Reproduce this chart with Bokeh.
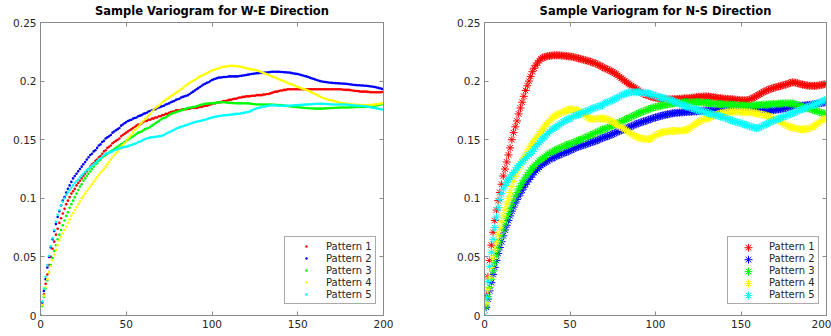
from bokeh.plotting import figure
from bokeh.layouts import row
from bokeh.models import (FixedTicker, CustomJSTickFormatter, LinearAxis, Legend,
                          LegendItem, Range1d, CustomLabelingPolicy)
from bokeh.embed import file_html
from bokeh.resources import INLINE

lags = list(range(0, 201))

pattern_names = ["Pattern 1", "Pattern 2", "Pattern 3", "Pattern 4", "Pattern 5"]
pattern_colors = ["#ff0000", "#0000ff", "#00ff00", "#ffff00", "#00ffff"]
x_ticks = [0, 50, 100, 150, 200]
y_ticks = [0, 0.05, 0.1, 0.15, 0.2, 0.25]

# ---------------- W-E direction ----------------
we_p1 = [
    0.000, 0.009, 0.018, 0.027, 0.035, 0.043, 0.050, 0.057, 0.063, 0.069,
    0.074, 0.079, 0.083, 0.087, 0.091, 0.095, 0.098, 0.101, 0.104, 0.106,
    0.108, 0.111, 0.113, 0.115, 0.117, 0.119, 0.121, 0.123, 0.125, 0.127,
    0.129, 0.130, 0.132, 0.133, 0.135, 0.136, 0.138, 0.140, 0.141, 0.143,
    0.144, 0.145, 0.147, 0.148, 0.149, 0.150, 0.151, 0.153, 0.154, 0.155,
    0.156, 0.157, 0.158, 0.159, 0.160, 0.161, 0.162, 0.163, 0.163, 0.164,
    0.165, 0.166, 0.166, 0.167, 0.167, 0.168, 0.168, 0.169, 0.169, 0.170,
    0.170, 0.171, 0.171, 0.172, 0.172, 0.173, 0.1735, 0.174, 0.174, 0.175,
    0.175, 0.175, 0.1755, 0.176, 0.176, 0.176, 0.1765, 0.1765, 0.177, 0.177,
    0.177, 0.177, 0.1775, 0.178, 0.178, 0.1785, 0.179, 0.179, 0.1795, 0.180,
    0.1805, 0.181, 0.181, 0.1815, 0.182, 0.182, 0.1825, 0.183, 0.183, 0.1835,
    0.184, 0.184, 0.1845, 0.185, 0.185, 0.1855, 0.186, 0.186, 0.1865, 0.1865,
    0.187, 0.187, 0.187, 0.1875, 0.1875, 0.1875, 0.188, 0.188, 0.188, 0.188,
    0.1885, 0.1885, 0.189, 0.189, 0.1895, 0.190, 0.1905, 0.191, 0.191, 0.1915,
    0.192, 0.192, 0.1925, 0.1925, 0.193, 0.193, 0.193, 0.193, 0.193, 0.193,
    0.193, 0.193, 0.193, 0.193, 0.193, 0.193, 0.193, 0.193, 0.193, 0.193,
    0.193, 0.193, 0.193, 0.193, 0.193, 0.193, 0.193, 0.193, 0.193, 0.193,
    0.193, 0.193, 0.193, 0.193, 0.193, 0.193, 0.1928, 0.1926, 0.1925, 0.1925,
    0.1925, 0.1922, 0.192, 0.1918, 0.1915, 0.1915, 0.1912, 0.191, 0.191, 0.191,
    0.191, 0.1908, 0.1906, 0.1905, 0.1905, 0.1905, 0.1905, 0.1905, 0.1905, 0.1906,
    0.1906,
]
we_p2 = [
    0.000, 0.011, 0.021, 0.031, 0.041, 0.050, 0.058, 0.065, 0.072, 0.078,
    0.084, 0.089, 0.094, 0.098, 0.101, 0.105, 0.108, 0.111, 0.114, 0.117,
    0.119, 0.121, 0.123, 0.125, 0.127, 0.129, 0.131, 0.133, 0.135, 0.137,
    0.138, 0.140, 0.141, 0.143, 0.145, 0.146, 0.148, 0.149, 0.151, 0.152,
    0.153, 0.154, 0.156, 0.157, 0.158, 0.159, 0.160, 0.162, 0.163, 0.164,
    0.165, 0.166, 0.1665, 0.167, 0.168, 0.1685, 0.169, 0.170, 0.1705, 0.171,
    0.172, 0.1725, 0.173, 0.174, 0.1745, 0.175, 0.1755, 0.176, 0.177, 0.1775,
    0.178, 0.1785, 0.179, 0.180, 0.1805, 0.181, 0.182, 0.1825, 0.183, 0.184,
    0.1845, 0.185, 0.186, 0.1865, 0.187, 0.1875, 0.188, 0.189, 0.190, 0.191,
    0.192, 0.193, 0.194, 0.195, 0.196, 0.197, 0.1977, 0.1985, 0.199, 0.200,
    0.201, 0.2015, 0.202, 0.2025, 0.203, 0.203, 0.2033, 0.2035, 0.2035, 0.2037,
    0.204, 0.204, 0.204, 0.204, 0.204, 0.204, 0.2043, 0.2045, 0.2048, 0.205,
    0.2052, 0.2055, 0.2058, 0.206, 0.2062, 0.2065, 0.2067, 0.2068, 0.2069, 0.207,
    0.207, 0.2072, 0.2074, 0.2076, 0.2078, 0.208, 0.208, 0.208, 0.208, 0.208,
    0.2078, 0.2077, 0.2076, 0.2075, 0.2074, 0.2073, 0.207, 0.2067, 0.2064, 0.2062,
    0.206, 0.2056, 0.2052, 0.2048, 0.2044, 0.204, 0.2035, 0.203, 0.2025, 0.202,
    0.2015, 0.201, 0.2005, 0.200, 0.1997, 0.1995, 0.1992, 0.199, 0.1988, 0.1986,
    0.1985, 0.1984, 0.1983, 0.1982, 0.1981, 0.198, 0.1979, 0.1978, 0.1977, 0.1975,
    0.1973, 0.1971, 0.1969, 0.1967, 0.1966, 0.1965, 0.1964, 0.1963, 0.1962, 0.1961,
    0.196, 0.1958, 0.1956, 0.1954, 0.1952, 0.195, 0.1946, 0.1942, 0.1938, 0.1934,
    0.1931,
]
we_p3 = [
    0.000, 0.008, 0.016, 0.023, 0.030, 0.037, 0.043, 0.049, 0.055, 0.060,
    0.065, 0.069, 0.073, 0.077, 0.081, 0.085, 0.088, 0.092, 0.095, 0.098,
    0.101, 0.104, 0.107, 0.110, 0.112, 0.115, 0.117, 0.119, 0.121, 0.123,
    0.125, 0.127, 0.129, 0.130, 0.132, 0.133, 0.135, 0.136, 0.137, 0.138,
    0.139, 0.140, 0.141, 0.142, 0.143, 0.144, 0.145, 0.146, 0.147, 0.148,
    0.149, 0.150, 0.151, 0.152, 0.153, 0.154, 0.155, 0.156, 0.1565, 0.157,
    0.158, 0.159, 0.1595, 0.160, 0.161, 0.162, 0.163, 0.164, 0.165, 0.166,
    0.167, 0.168, 0.1685, 0.169, 0.170, 0.171, 0.172, 0.1725, 0.173, 0.1735,
    0.174, 0.1745, 0.175, 0.1755, 0.176, 0.1765, 0.177, 0.1772, 0.1775, 0.1778,
    0.178, 0.1785, 0.179, 0.1795, 0.180, 0.1803, 0.1807, 0.1808, 0.1809, 0.181,
    0.181, 0.1812, 0.1814, 0.1816, 0.1818, 0.182, 0.182, 0.182, 0.1818, 0.1816,
    0.1815, 0.1814, 0.1813, 0.1812, 0.1811, 0.181, 0.181, 0.181, 0.181, 0.181,
    0.181, 0.181, 0.1808, 0.1806, 0.1804, 0.1802, 0.180, 0.180, 0.180, 0.180,
    0.180, 0.180, 0.180, 0.180, 0.180, 0.180, 0.1798, 0.1797, 0.1796, 0.1795,
    0.1795, 0.1793, 0.1791, 0.1789, 0.1787, 0.1785, 0.1783, 0.1781, 0.178, 0.178,
    0.1778, 0.1776, 0.1774, 0.1772, 0.1771, 0.177, 0.1769, 0.1768, 0.1767, 0.1766,
    0.1765, 0.1765, 0.1765, 0.1765, 0.1765, 0.1766, 0.1767, 0.1768, 0.1769, 0.177,
    0.177, 0.1771, 0.1772, 0.1773, 0.1774, 0.1775, 0.1775, 0.1775, 0.1775, 0.1775,
    0.1775, 0.1776, 0.1777, 0.1778, 0.1779, 0.178, 0.178, 0.178, 0.178, 0.178,
    0.178, 0.1782, 0.1784, 0.1786, 0.1788, 0.179, 0.1793, 0.1796, 0.1799, 0.1802,
    0.1804,
]
we_p4 = [
    0.000, 0.009, 0.017, 0.024, 0.031, 0.037, 0.042, 0.047, 0.052, 0.056,
    0.060, 0.064, 0.067, 0.070, 0.073, 0.076, 0.079, 0.082, 0.085, 0.0875,
    0.090, 0.0925, 0.095, 0.0975, 0.100, 0.102, 0.104, 0.106, 0.108, 0.110,
    0.112, 0.114, 0.116, 0.118, 0.120, 0.122, 0.1235, 0.125, 0.127, 0.129,
    0.131, 0.133, 0.135, 0.137, 0.1385, 0.140, 0.142, 0.144, 0.1455, 0.147,
    0.149, 0.151, 0.1525, 0.154, 0.156, 0.158, 0.1595, 0.161, 0.163, 0.1645,
    0.166, 0.1675, 0.169, 0.1705, 0.172, 0.174, 0.1755, 0.177, 0.178, 0.179,
    0.1805, 0.182, 0.183, 0.184, 0.185, 0.186, 0.187, 0.188, 0.189, 0.190,
    0.191, 0.192, 0.193, 0.194, 0.1955, 0.1965, 0.1975, 0.1985, 0.1995, 0.2003,
    0.201, 0.202, 0.203, 0.204, 0.2045, 0.2053, 0.206, 0.2068, 0.2075, 0.2083,
    0.209, 0.2095, 0.210, 0.2105, 0.211, 0.2115, 0.212, 0.2123, 0.2125, 0.2127,
    0.2128, 0.213, 0.213, 0.213, 0.2128, 0.2127, 0.2125, 0.2122, 0.2118, 0.2114,
    0.211, 0.2107, 0.2104, 0.210, 0.2098, 0.2096, 0.2092, 0.2087, 0.2082, 0.2076,
    0.207, 0.2064, 0.2058, 0.2052, 0.2046, 0.204, 0.2034, 0.2028, 0.2022, 0.2016,
    0.201, 0.2004, 0.1998, 0.1992, 0.1986, 0.198, 0.1974, 0.1968, 0.1962, 0.1956,
    0.195, 0.1945, 0.194, 0.1935, 0.193, 0.1926, 0.1919, 0.1912, 0.1905, 0.1898,
    0.189, 0.1883, 0.1876, 0.1868, 0.186, 0.1855, 0.185, 0.1845, 0.184, 0.1837,
    0.1835, 0.1831, 0.1827, 0.1822, 0.1818, 0.1815, 0.1812, 0.181, 0.1808, 0.1806,
    0.1805, 0.1803, 0.1801, 0.180, 0.1798, 0.1797, 0.1796, 0.1796, 0.1795, 0.1795,
    0.1795, 0.1795, 0.1796, 0.1797, 0.1798, 0.180, 0.1802, 0.1805, 0.1808, 0.181,
    0.1812,
]
we_p5 = [
    0.000, 0.012, 0.023, 0.033, 0.043, 0.051, 0.059, 0.066, 0.073, 0.080,
    0.086, 0.090, 0.094, 0.097, 0.100, 0.103, 0.105, 0.107, 0.109, 0.111,
    0.113, 0.1145, 0.116, 0.118, 0.1195, 0.121, 0.1225, 0.124, 0.125, 0.1265,
    0.128, 0.129, 0.130, 0.1315, 0.133, 0.134, 0.1355, 0.137, 0.138, 0.1385,
    0.139, 0.1395, 0.140, 0.141, 0.1415, 0.142, 0.1425, 0.143, 0.1435, 0.144,
    0.144, 0.1445, 0.145, 0.1455, 0.146, 0.1465, 0.147, 0.148, 0.1485, 0.149,
    0.150, 0.1505, 0.151, 0.1515, 0.152, 0.152, 0.1522, 0.1525, 0.1527, 0.153,
    0.153, 0.1535, 0.154, 0.155, 0.1557, 0.1563, 0.157, 0.1578, 0.1585, 0.1593,
    0.160, 0.1605, 0.161, 0.1615, 0.162, 0.1625, 0.163, 0.1635, 0.164, 0.1645,
    0.165, 0.1653, 0.1657, 0.166, 0.1663, 0.1667, 0.167, 0.1675, 0.168, 0.1685,
    0.169, 0.1693, 0.1696, 0.1699, 0.1702, 0.1704, 0.1706, 0.1708, 0.1708, 0.171,
    0.1712, 0.1714, 0.1716, 0.1718, 0.172, 0.172, 0.1722, 0.1725, 0.1728, 0.1731,
    0.1733, 0.1736, 0.1742, 0.1748, 0.1755, 0.1762, 0.1767, 0.177, 0.1774, 0.1778,
    0.1781, 0.1784, 0.1787, 0.179, 0.1792, 0.1793, 0.1793, 0.1792, 0.1791, 0.179,
    0.179, 0.179, 0.179, 0.179, 0.179, 0.179, 0.1791, 0.1792, 0.1793, 0.1794,
    0.1795, 0.1796, 0.1797, 0.1798, 0.1799, 0.180, 0.1801, 0.1802, 0.1803, 0.1804,
    0.1805, 0.1806, 0.1807, 0.1807, 0.1807, 0.1806, 0.1805, 0.1804, 0.1803, 0.1802,
    0.180, 0.180, 0.180, 0.180, 0.180, 0.180, 0.180, 0.180, 0.180, 0.1798,
    0.1796, 0.1795, 0.1793, 0.1792, 0.1791, 0.179, 0.1789, 0.1788, 0.1787, 0.1786,
    0.1784, 0.1781, 0.1778, 0.1775, 0.1772, 0.177, 0.1767, 0.1764, 0.1761, 0.1758,
    0.1756,
]

# ---------------- N-S direction ----------------
ns_p1 = [
    0.000, 0.017, 0.033, 0.047, 0.060, 0.071, 0.081, 0.090, 0.098, 0.105,
    0.112, 0.119, 0.125, 0.131, 0.137, 0.143, 0.150, 0.156, 0.161, 0.166,
    0.172, 0.177, 0.182, 0.187, 0.192, 0.196, 0.200, 0.204, 0.208, 0.211,
    0.2135, 0.2155, 0.2175, 0.219, 0.220, 0.2205, 0.221, 0.2213, 0.2215, 0.2217,
    0.222, 0.222, 0.222, 0.222, 0.222, 0.2218, 0.2217, 0.2215, 0.2213, 0.2212,
    0.221, 0.2208, 0.2205, 0.2202, 0.2198, 0.2194, 0.219, 0.2186, 0.2182, 0.2178,
    0.2175, 0.217, 0.2165, 0.216, 0.2155, 0.215, 0.2143, 0.2135, 0.2128, 0.212,
    0.2113, 0.2106, 0.210, 0.2092, 0.2085, 0.2077, 0.2068, 0.206, 0.2048, 0.2037,
    0.2025, 0.2013, 0.2002, 0.199, 0.198, 0.197, 0.196, 0.195, 0.194, 0.193,
    0.192, 0.191, 0.190, 0.189, 0.1885, 0.188, 0.1875, 0.187, 0.1865, 0.186,
    0.186, 0.1855, 0.185, 0.185, 0.1848, 0.1845, 0.1845, 0.1845, 0.1845, 0.1845,
    0.1845, 0.1846, 0.1847, 0.1848, 0.1849, 0.185, 0.1851, 0.1852, 0.1853, 0.1854,
    0.1855, 0.1857, 0.1859, 0.1861, 0.1863, 0.1865, 0.1866, 0.1867, 0.1868, 0.1869,
    0.187, 0.1868, 0.1866, 0.1864, 0.1862, 0.186, 0.1858, 0.1856, 0.1854, 0.1852,
    0.185, 0.1849, 0.1848, 0.1847, 0.1846, 0.1845, 0.1843, 0.1841, 0.184, 0.1838,
    0.1837, 0.1836, 0.1835, 0.1836, 0.1838, 0.1842, 0.1848, 0.1855, 0.1863, 0.1872,
    0.188, 0.189, 0.1898, 0.1906, 0.1914, 0.192, 0.1926, 0.1932, 0.1937, 0.1942,
    0.1946, 0.195, 0.1954, 0.1958, 0.1962, 0.1966, 0.197, 0.1975, 0.198, 0.1985,
    0.199, 0.1989, 0.1986, 0.1982, 0.1978, 0.1974, 0.197, 0.1967, 0.1964, 0.1962,
    0.196, 0.196, 0.196, 0.196, 0.196, 0.1962, 0.1964, 0.1967, 0.197, 0.1973,
    0.1976,
]
ns_p2 = [
    0.000, 0.007, 0.014, 0.021, 0.028, 0.035, 0.041, 0.047, 0.053, 0.058,
    0.063, 0.068, 0.073, 0.077, 0.081, 0.085, 0.089, 0.0925, 0.096, 0.099,
    0.102, 0.1045, 0.107, 0.1095, 0.112, 0.114, 0.116, 0.118, 0.120, 0.122,
    0.1235, 0.125, 0.1265, 0.128, 0.129, 0.130, 0.131, 0.132, 0.133, 0.134,
    0.1345, 0.135, 0.136, 0.1365, 0.137, 0.138, 0.1385, 0.139, 0.1395, 0.140,
    0.141, 0.1415, 0.142, 0.143, 0.1435, 0.144, 0.1445, 0.145, 0.1455, 0.146,
    0.1465, 0.147, 0.1475, 0.148, 0.1485, 0.149, 0.1495, 0.150, 0.151, 0.1515,
    0.152, 0.1525, 0.153, 0.1535, 0.154, 0.155, 0.1555, 0.156, 0.157, 0.1575,
    0.158, 0.1585, 0.159, 0.1595, 0.1605, 0.161, 0.1615, 0.162, 0.163, 0.1635,
    0.164, 0.1645, 0.165, 0.1655, 0.166, 0.1665, 0.167, 0.1675, 0.168, 0.1685,
    0.169, 0.1694, 0.1698, 0.1702, 0.1706, 0.171, 0.1713, 0.1716, 0.1719, 0.1722,
    0.1725, 0.1727, 0.1728, 0.173, 0.1731, 0.1732, 0.1733, 0.1735, 0.1736, 0.1737,
    0.1738, 0.1739, 0.174, 0.1741, 0.1742, 0.1745, 0.1746, 0.1747, 0.1748, 0.1749,
    0.175, 0.175, 0.175, 0.175, 0.175, 0.175, 0.175, 0.175, 0.175, 0.175,
    0.1752, 0.1753, 0.1755, 0.1756, 0.1757, 0.1758, 0.1759, 0.176, 0.176, 0.176,
    0.1761, 0.1762, 0.1762, 0.1763, 0.1763, 0.1763, 0.1762, 0.1762, 0.1761, 0.176,
    0.176, 0.1758, 0.1756, 0.1754, 0.1752, 0.175, 0.175, 0.175, 0.175, 0.1752,
    0.1754, 0.1756, 0.1758, 0.176, 0.1763, 0.1766, 0.177, 0.1774, 0.1778, 0.1782,
    0.1786, 0.179, 0.179, 0.179, 0.179, 0.179, 0.179, 0.1792, 0.1794, 0.1796,
    0.1797, 0.1799, 0.1801, 0.1803, 0.1805, 0.1808, 0.181, 0.1813, 0.1816, 0.1818,
    0.182,
]
ns_p3 = [
    0.000, 0.008, 0.016, 0.024, 0.031, 0.038, 0.045, 0.051, 0.057, 0.063,
    0.068, 0.073, 0.078, 0.083, 0.087, 0.091, 0.095, 0.0985, 0.102, 0.105,
    0.108, 0.1105, 0.113, 0.1155, 0.118, 0.120, 0.122, 0.124, 0.126, 0.1275,
    0.129, 0.1305, 0.132, 0.133, 0.134, 0.135, 0.1365, 0.1375, 0.1385, 0.139,
    0.140, 0.141, 0.1415, 0.142, 0.143, 0.1435, 0.144, 0.145, 0.1455, 0.146,
    0.1465, 0.147, 0.1475, 0.148, 0.149, 0.1495, 0.150, 0.1505, 0.151, 0.152,
    0.1525, 0.153, 0.154, 0.1545, 0.155, 0.156, 0.1565, 0.157, 0.158, 0.1585,
    0.159, 0.1595, 0.160, 0.161, 0.1615, 0.162, 0.163, 0.1635, 0.164, 0.165,
    0.1655, 0.166, 0.167, 0.1677, 0.1684, 0.169, 0.1697, 0.1704, 0.1711, 0.1718,
    0.1725, 0.1731, 0.1737, 0.1743, 0.1749, 0.1755, 0.176, 0.1765, 0.177, 0.1775,
    0.178, 0.1783, 0.1786, 0.1789, 0.1792, 0.1795, 0.1798, 0.1801, 0.1804, 0.1807,
    0.181, 0.1812, 0.1814, 0.1815, 0.1816, 0.1817, 0.1818, 0.182, 0.182, 0.182,
    0.182, 0.182, 0.182, 0.182, 0.182, 0.182, 0.1819, 0.1818, 0.1817, 0.1816,
    0.1815, 0.1813, 0.1811, 0.181, 0.1808, 0.1807, 0.1805, 0.1804, 0.1803, 0.1802,
    0.1801, 0.180, 0.180, 0.1799, 0.1798, 0.1797, 0.1797, 0.1796, 0.1795, 0.1794,
    0.1793, 0.1792, 0.1791, 0.179, 0.179, 0.179, 0.179, 0.1791, 0.1792, 0.1794,
    0.1795, 0.1796, 0.1797, 0.1798, 0.1799, 0.180, 0.1801, 0.1802, 0.1803, 0.1804,
    0.1805, 0.1806, 0.1807, 0.1808, 0.1809, 0.181, 0.181, 0.181, 0.181, 0.181,
    0.1808, 0.1805, 0.1801, 0.1797, 0.179, 0.1785, 0.178, 0.1775, 0.177, 0.1767,
    0.1765, 0.176, 0.1755, 0.175, 0.1745, 0.174, 0.1735, 0.173, 0.1725, 0.1722,
    0.172,
]
ns_p4 = [
    0.000, 0.011, 0.022, 0.032, 0.041, 0.049, 0.056, 0.063, 0.069, 0.075,
    0.080, 0.085, 0.090, 0.095, 0.100, 0.105, 0.110, 0.1145, 0.119, 0.1225,
    0.126, 0.129, 0.132, 0.1345, 0.137, 0.1395, 0.142, 0.1445, 0.147, 0.149,
    0.151, 0.153, 0.155, 0.157, 0.159, 0.161, 0.163, 0.1645, 0.166, 0.1675,
    0.169, 0.170, 0.171, 0.1717, 0.1723, 0.173, 0.1737, 0.1743, 0.175, 0.1755,
    0.176, 0.176, 0.1758, 0.1755, 0.175, 0.1743, 0.1735, 0.1725, 0.1715, 0.1705,
    0.1695, 0.1685, 0.168, 0.1675, 0.1675, 0.1678, 0.168, 0.168, 0.168, 0.168,
    0.168, 0.1677, 0.1672, 0.1667, 0.1662, 0.165, 0.1642, 0.1633, 0.1622, 0.161,
    0.1605, 0.1598, 0.1588, 0.1578, 0.157, 0.156, 0.155, 0.154, 0.1532, 0.1525,
    0.152, 0.1515, 0.151, 0.1507, 0.1505, 0.1505, 0.1505, 0.1508, 0.1515, 0.153,
    0.1537, 0.1545, 0.1552, 0.1558, 0.1562, 0.1565, 0.1567, 0.157, 0.1572, 0.1573,
    0.1574, 0.1575, 0.1575, 0.1576, 0.1577, 0.1578, 0.158, 0.158, 0.1583, 0.159,
    0.160, 0.161, 0.162, 0.163, 0.164, 0.165, 0.166, 0.1665, 0.1672, 0.1678,
    0.168, 0.1686, 0.1692, 0.1698, 0.1704, 0.171, 0.1715, 0.172, 0.1725, 0.1728,
    0.1731, 0.1733, 0.1735, 0.1737, 0.1739, 0.174, 0.174, 0.174, 0.174, 0.1739,
    0.1738, 0.1737, 0.1736, 0.1736, 0.1735, 0.1734, 0.1732, 0.173, 0.1728, 0.1726,
    0.1723, 0.172, 0.1716, 0.1712, 0.1708, 0.1705, 0.170, 0.1694, 0.1688, 0.1682,
    0.1676, 0.1669, 0.1662, 0.1655, 0.1647, 0.1637, 0.1628, 0.162, 0.1613, 0.1608,
    0.1603, 0.1599, 0.1595, 0.1592, 0.159, 0.1588, 0.1587, 0.1588, 0.159, 0.1593,
    0.1597, 0.1602, 0.1607, 0.162, 0.163, 0.164, 0.1652, 0.1663, 0.1672, 0.1678,
    0.168,
]
ns_p5 = [
    0.000, 0.015, 0.029, 0.042, 0.054, 0.065, 0.075, 0.084, 0.092, 0.099,
    0.104, 0.108, 0.111, 0.1135, 0.116, 0.118, 0.120, 0.122, 0.124, 0.126,
    0.128, 0.1295, 0.131, 0.1325, 0.134, 0.1355, 0.137, 0.1385, 0.140, 0.142,
    0.144, 0.1457, 0.1474, 0.149, 0.1507, 0.1523, 0.154, 0.1553, 0.157, 0.158,
    0.159, 0.160, 0.161, 0.162, 0.163, 0.164, 0.165, 0.166, 0.167, 0.1675,
    0.168, 0.169, 0.170, 0.1705, 0.171, 0.1715, 0.172, 0.173, 0.1735, 0.174,
    0.1745, 0.175, 0.1755, 0.1765, 0.177, 0.1775, 0.178, 0.1785, 0.179, 0.1795,
    0.181, 0.1815, 0.182, 0.1825, 0.1832, 0.1838, 0.1845, 0.1855, 0.186, 0.1868,
    0.188, 0.1885, 0.189, 0.1895, 0.190, 0.1905, 0.1905, 0.1905, 0.1905, 0.1905,
    0.1905, 0.1903, 0.1901, 0.190, 0.190, 0.1898, 0.1895, 0.189, 0.1885, 0.188,
    0.1875, 0.187, 0.1865, 0.186, 0.1857, 0.1853, 0.185, 0.1848, 0.1843, 0.1837,
    0.1832, 0.1826, 0.182, 0.1815, 0.1809, 0.1803, 0.1797, 0.179, 0.1785, 0.178,
    0.1775, 0.177, 0.1765, 0.176, 0.1756, 0.1752, 0.1748, 0.1744, 0.174, 0.1736,
    0.1731, 0.1727, 0.1722, 0.1718, 0.1714, 0.171, 0.1706, 0.1702, 0.1698, 0.1694,
    0.169, 0.1685, 0.1678, 0.1672, 0.1667, 0.1662, 0.1657, 0.1652, 0.165, 0.1645,
    0.164, 0.1635, 0.163, 0.1625, 0.162, 0.1615, 0.161, 0.1605, 0.1602, 0.160,
    0.160, 0.1605, 0.1612, 0.162, 0.1627, 0.1635, 0.164, 0.165, 0.1656, 0.1662,
    0.1667, 0.1672, 0.1678, 0.1685, 0.169, 0.1697, 0.1703, 0.1708, 0.1713, 0.172,
    0.1725, 0.173, 0.1737, 0.1743, 0.1749, 0.1755, 0.176, 0.1768, 0.1774, 0.178,
    0.1785, 0.179, 0.1796, 0.180, 0.1806, 0.1812, 0.1818, 0.1825, 0.1832, 0.1838,
    0.1848,
]

we_series = [we_p1, we_p2, we_p3, we_p4, we_p5]
ns_series = [ns_p1, ns_p2, ns_p3, ns_p4, ns_p5]

FONT = "DejaVu Sans"
AXIS_COLOR = "#8a8a8a"
TEXT_COLOR = "#262626"
FIG_H = 336
BORDER_TB = 21

NO_LABELS = "for (const i of indices) { indices.unset(i) }"


def style_axes(p):
    fmt = CustomJSTickFormatter(code="return tick.toString();")
    for ax in p.xaxis:
        ax.ticker = FixedTicker(ticks=x_ticks)
    for ax in p.yaxis:
        ax.ticker = FixedTicker(ticks=y_ticks)
        ax.formatter = fmt
    for ax in list(p.xaxis) + list(p.yaxis):
        ax.axis_line_color = AXIS_COLOR
        ax.major_tick_line_color = AXIS_COLOR
        ax.major_tick_in = 4
        ax.major_tick_out = 0
        ax.minor_tick_line_color = None
        ax.major_label_text_font = FONT
        ax.major_label_text_font_size = "10.5px"
        ax.major_label_text_color = TEXT_COLOR
        ax.major_label_standoff = 4
    # ticks only (no labels) on top and right, as in a MATLAB box
    for ticks, side in ((x_ticks, "above"), (y_ticks, "right")):
        ax = LinearAxis(ticker=FixedTicker(ticks=ticks), major_label_text_font_size="1px",
                        major_label_standoff=0, axis_line_color=AXIS_COLOR,
                        major_tick_line_color=AXIS_COLOR, major_tick_in=4, major_tick_out=0,
                        minor_tick_line_color=None,
                        major_label_policy=CustomLabelingPolicy(code=NO_LABELS))
        p.add_layout(ax, side)
    p.xgrid.visible = False
    p.ygrid.visible = False
    p.outline_line_color = AXIS_COLOR
    p.title.text_font = FONT
    p.title.text_font_size = "11.5px"
    p.title.text_font_style = "bold"
    p.title.text_color = "#000000"
    p.title.align = "center"
    p.title.standoff = 2


def make_fig(title, width, border_left, border_right):
    p = figure(width=width, height=FIG_H, x_range=Range1d(0, 200), y_range=Range1d(0, 0.25),
               output_backend="svg", toolbar_location=None, title=title,
               min_border_left=border_left, min_border_right=border_right,
               min_border_top=BORDER_TB, min_border_bottom=BORDER_TB)
    p.background_fill_color = "white"
    p.border_fill_color = "white"
    return p


def add_legend(p, renderers, loc, glyph_h, padding, bg_alpha):
    items = [LegendItem(label=n, renderers=[r]) for n, r in zip(pattern_names, renderers)]
    lg = Legend(items=items, location=loc)
    lg.label_text_font = FONT
    lg.label_text_font_size = "10px"
    lg.label_text_color = TEXT_COLOR
    lg.glyph_width = 36
    lg.glyph_height = glyph_h
    lg.label_height = 12
    lg.label_standoff = 2
    lg.spacing = 0
    lg.padding = padding
    lg.margin = 0
    lg.border_line_color = "#555555"
    lg.border_line_width = 1
    lg.background_fill_color = "white"
    lg.background_fill_alpha = bg_alpha
    p.add_layout(lg)
    return lg


# left: W-E
p1 = make_fig("Sample Variogram for W-E Direction", 423, 40, 40)
r1 = []
for ys, c in zip(we_series, pattern_colors):
    r1.append(p1.scatter(lags, ys, marker="circle", size=2.6, fill_color=c, line_color=None))
style_axes(p1)
add_legend(p1, r1, (244, 11), 6, 3, 1)

# right: N-S
P2_W, P2_L, P2_R = 408, 61, 5
p2 = make_fig("Sample Variogram for N-S Direction", P2_W, P2_L, P2_R)
for ys, c in zip(ns_series, pattern_colors):
    p2.scatter(lags, ys, marker="asterisk", size=8, line_color=c, line_width=1)
style_axes(p2)
# the legend box area holds no data here, so the legend is left see-through and its
# asterisks are drawn at full marker size underneath (Bokeh would shrink them to the row)
frame_w = P2_W - P2_L - P2_R
frame_h = FIG_H - 2 * BORDER_TB
p2.extra_x_ranges = {"px": Range1d(0, frame_w)}
p2.extra_y_ranges = {"py": Range1d(0, frame_h)}
LEG2_LOC, LEG2_PAD, LEG2_ROW, LEG2_GW = (243, 11), 3, 12, 36
leg_h = 2 * LEG2_PAD + LEG2_ROW * len(pattern_names)
proxies = []
for i, c in enumerate(pattern_colors):
    gx = LEG2_LOC[0] + LEG2_PAD + LEG2_GW / 2
    gy = LEG2_LOC[1] + leg_h - LEG2_PAD - LEG2_ROW / 2 - i * LEG2_ROW
    p2.scatter([gx], [gy], marker="asterisk", size=8, line_color=c, line_width=1,
               x_range_name="px", y_range_name="py")
    proxies.append(p2.scatter(x=[], y=[], marker="asterisk", size=8, line_color=c,
                              line_alpha=0))
add_legend(p2, proxies, LEG2_LOC, 12, LEG2_PAD, 0)

layout = row(p1, p2)
open("out.html", "w").write(file_html(layout, INLINE))
